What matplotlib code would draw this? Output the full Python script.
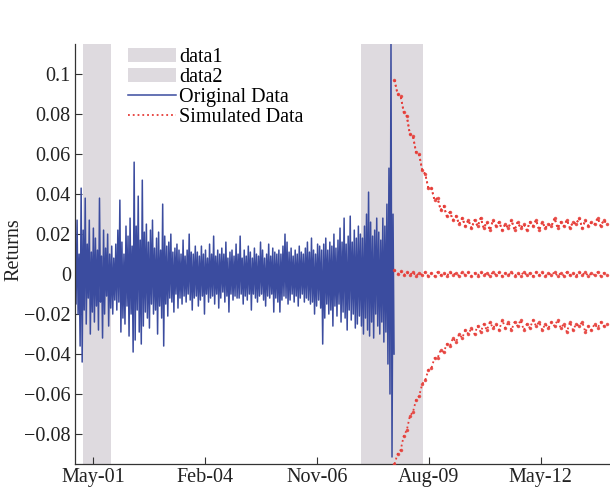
import numpy as np
import pandas as pd
import matplotlib
matplotlib.use('Agg')
import matplotlib.pyplot as plt
import matplotlib.dates as mdates

plt.rcParams['font.family'] = ['Liberation Serif', 'DejaVu Serif']

# daily returns in percent, Nov 2000 to Sep 2008
ret_pct = [
    1.2, -1.5, 2.7, -2.0, 1.0, -3.6, 4.3, -4.4, 2.2, -1.8, 3.8, -2.5, 1.5, -1.2, 2.7, -3.0, 1.1, -1.9, 2.3, -2.4,
    1.8, -1.6, 1.2, -2.8, 3.8, -1.4, 0.9, -3.2, 2.2, -2.0, 1.3, -1.1, 2.0, -2.6, 1.0, -1.7, 1.4, -2.0, 0.8, -1.3,
    1.5, -1.8, 2.2, -1.4, 3.7, -2.9, 1.6, -2.2, 1.0, -2.5, 2.4, -1.6, 1.9, -3.1, 2.8, -2.0, 1.4, -3.9, 5.6, -3.3,
    2.4, -1.8, 3.9, -2.9, 1.7, -3.5, 4.7, -2.6, 2.1, -1.9, 2.5, -2.2, 1.6, -2.7, 2.2, -1.5, 2.7, -2.0, 1.3, -1.8,
    1.8, -3.0, 2.1, -1.6, 1.2, -2.2, 3.5, -3.6, 1.9, -1.5, 1.4, -2.1, 1.6, -1.2, 2.0, -1.4, 1.1, -1.9, 1.3, -1.0,
    1.5, -1.7, 1.2, -1.2, 1.0, -1.5, 1.7, -1.1, 0.9, -1.4, 1.2, -1.0, 2.0, -1.3, 1.1, -1.8, 1.0, -1.2, 1.4, -1.1,
    1.1, -1.6, 0.9, -1.3, 1.4, -1.1, 1.0, -2.0, 1.2, -1.0, 0.8, -1.4, 1.5, -1.2, 1.0, -1.1, 1.9, -1.5, 0.9, -1.0,
    1.2, -1.7, 1.0, -1.2, 1.3, -0.9, 1.0, -1.4, 1.6, -1.1, 0.8, -1.9, 1.1, -1.0, 1.2, -1.3, 0.9, -1.1, 1.5, -1.2,
    1.0, -1.2, 1.9, -1.0, 0.8, -1.5, 1.2, -1.1, 0.9, -1.3, 1.4, -1.0, 1.1, -1.8, 0.8, -1.0, 1.3, -1.2, 1.0, -1.4,
    0.9, -1.1, 1.6, -1.0, 1.2, -1.3, 0.8, -1.6, 1.0, -1.1, 1.5, -1.2, 0.9, -1.0, 1.3, -1.9, 1.1, -1.2, 1.0, -1.4,
    1.2, -1.9, 1.0, -1.3, 1.4, -1.1, 2.0, -1.2, 1.6, -1.5, 1.1, -1.3, 1.3, -1.0, 0.9, -1.4, 1.2, -1.1, 1.0, -1.6,
    1.4, -1.2, 1.1, -1.0, 1.0, -1.4, 1.3, -1.2, 1.6, -1.3, 1.1, -1.5, 1.8, -1.4, 1.2, -2.0, 1.0, -1.6, 1.5, -1.3,
    1.4, -1.7, 1.2, -3.5, 1.5, -2.2, 1.8, -1.5, 1.2, -2.0, 1.6, -1.8, 1.4, -2.6, 2.0, -1.6, 1.3, -2.1, 1.7, -1.5,
    2.3, -2.4, 1.6, -1.9, 2.8, -2.2, 1.5, -2.8, 1.9, -1.8, 2.9, -2.3, 1.6, -2.0, 2.2, -2.7, 1.8, -2.5, 2.4, -2.1,
    2.0, -2.6, 1.8, -3.0, 2.4, -2.2, 3.0, -2.8, 4.1, -3.1, 2.6, -2.4, 1.9, -3.2, 2.2, -2.0, 2.8, -2.6, 2.1, -3.0,
    1.7, -2.4, 2.8, -3.4, 2.4, -2.9, 3.5, -4.5, 5.3, -6.0, 11.5, -9.15, 3.0, -4.0,
]

# simulated paths (percent), Sep 2008 to end 2013
sim_upper = [
    9.7, 9.0, 8.9, 8.1, 7.9, 7.0, 6.9, 6.1, 6.0, 5.2, 5.0, 4.3, 4.3, 3.7, 3.8, 3.2, 3.4, 2.9, 3.1, 2.7,
    2.9, 2.5, 2.8, 2.4, 2.7, 2.3, 2.7, 2.4, 2.8, 2.3, 2.6, 2.2, 2.7, 2.4, 2.6, 2.2, 2.5, 2.3, 2.7, 2.2,
    2.6, 2.3, 2.5, 2.2, 2.6, 2.4, 2.7, 2.2, 2.6, 2.3, 2.5, 2.4, 2.8, 2.3, 2.6, 2.4, 2.7, 2.3, 2.6, 2.5,
    2.8, 2.3, 2.7, 2.4, 2.6, 2.5, 2.8, 2.4, 2.7, 2.5,
]
sim_mid = [
    0.2, 0.0, 0.15, -0.05, 0.1, -0.05, 0.1, -0.1, 0.05, -0.05, 0.1, -0.1, 0.05, -0.1, 0.1, -0.05, 0.05, -0.1, 0.1, -0.05,
    0.05, -0.1, 0.1, -0.05, 0.08, -0.1, 0.05, -0.08, 0.1, -0.05, 0.05, -0.1, 0.1, -0.05, 0.08, -0.1, 0.05, -0.05, 0.1, -0.1,
    0.05, -0.08, 0.1, -0.05, 0.05, -0.1, 0.1, -0.05, 0.08, -0.1, 0.05, -0.05, 0.1, -0.1, 0.05, -0.08, 0.1, -0.05, 0.05, -0.1,
    0.1, -0.05, 0.08, -0.1, 0.05, -0.05, 0.1, -0.1, 0.05, -0.05,
]
sim_lower = [
    -9.5, -9.0, -8.8, -8.1, -7.8, -7.1, -6.9, -6.3, -6.1, -5.5, -5.3, -4.8, -4.7, -4.2, -4.2, -3.8, -3.9, -3.5, -3.6, -3.2,
    -3.4, -3.0, -3.2, -2.8, -3.0, -2.7, -3.0, -2.6, -2.9, -2.5, -2.8, -2.4, -2.7, -2.5, -2.8, -2.3, -2.7, -2.4, -2.8, -2.4,
    -2.6, -2.3, -2.8, -2.5, -2.7, -2.3, -2.6, -2.4, -2.8, -2.5, -2.7, -2.4, -2.6, -2.3, -2.7, -2.5, -2.9, -2.4, -2.8, -2.5,
    -2.6, -2.4, -2.9, -2.6, -2.8, -2.5, -2.7, -2.4, -2.6, -2.5,
]

shade_periods = [('2001-02-03', '2001-10-08'), ('2007-11-29', '2009-06-07')]
shade_labels = ['data1', 'data2']
tick_dates = ['2001-05-01', '2004-02-01', '2006-11-01', '2009-08-01', '2012-05-01']

returns = np.array(ret_pct) / 100
t_obs = pd.date_range('2000-11-20', '2008-09-22', periods=len(returns))
t_sim = pd.date_range('2008-09-26', '2013-12-15', periods=len(sim_upper))

fs = 14.5
fig = plt.figure(figsize=(6.1, 4.91), dpi=100)
ax = fig.add_axes([0.123, 0.055, 0.877, 0.855])

for (a, b), lab in zip(shade_periods, shade_labels):
    ax.axvspan(pd.Timestamp(a), pd.Timestamp(b), color='#dedadf', lw=0, label=lab, zorder=0)

ax.plot(t_obs, returns, color='#3b4c9f', lw=1.1, label='Original Data', zorder=2)

red = '#e63c37'
ax.plot(t_sim, np.array(sim_upper) / 100, color=red, ls=':', lw=1.3, label='Simulated Data', zorder=3)
for path in (sim_upper, sim_mid, sim_lower):
    vals = np.array(path) / 100
    ax.plot(t_sim, vals, color=red, ls=':', lw=1.3, zorder=3)
    ax.plot(t_sim, vals, color=red, ls='none', marker='.', ms=3, alpha=0.8, zorder=3)

ax.set_xlim(pd.Timestamp('2000-11-20'), pd.Timestamp('2014-01-12'))
ax.set_ylim(-0.095, 0.115)
ax.set_xticks([pd.Timestamp(d) for d in tick_dates])
ax.xaxis.set_major_formatter(mdates.DateFormatter('%b-%y'))
ax.set_yticks([-0.08, -0.06, -0.04, -0.02, 0, 0.02, 0.04, 0.06, 0.08, 0.1])
ax.set_yticklabels(['\u22120.08', '\u22120.06', '\u22120.04', '\u22120.02', '0', '0.02', '0.04', '0.06', '0.08', '0.1'])
ax.tick_params(direction='in', length=5, width=0.8, labelsize=fs, color='#333333', labelcolor='#222222')
ax.tick_params(axis='y', pad=3)
ax.tick_params(axis='x', pad=3)
ax.spines['top'].set_visible(False)
ax.spines['right'].set_visible(False)
for s in ['left', 'bottom']:
    ax.spines[s].set_color('#333333')
    ax.spines[s].set_linewidth(0.9)
ax.set_ylabel('Returns', fontsize=fs, color='#222222', va='center')
ax.yaxis.set_label_coords(-0.114, 0.51)

ax.legend(loc='upper left', bbox_to_anchor=(128 / 610, 1 - 48 / 491), bbox_transform=fig.transFigure,
          frameon=False, fontsize=fs, handlelength=2.4, handleheight=0.7, handletextpad=0.15,
          labelspacing=0.05, borderpad=0, borderaxespad=0)

fig.savefig('out.png', dpi=100)
